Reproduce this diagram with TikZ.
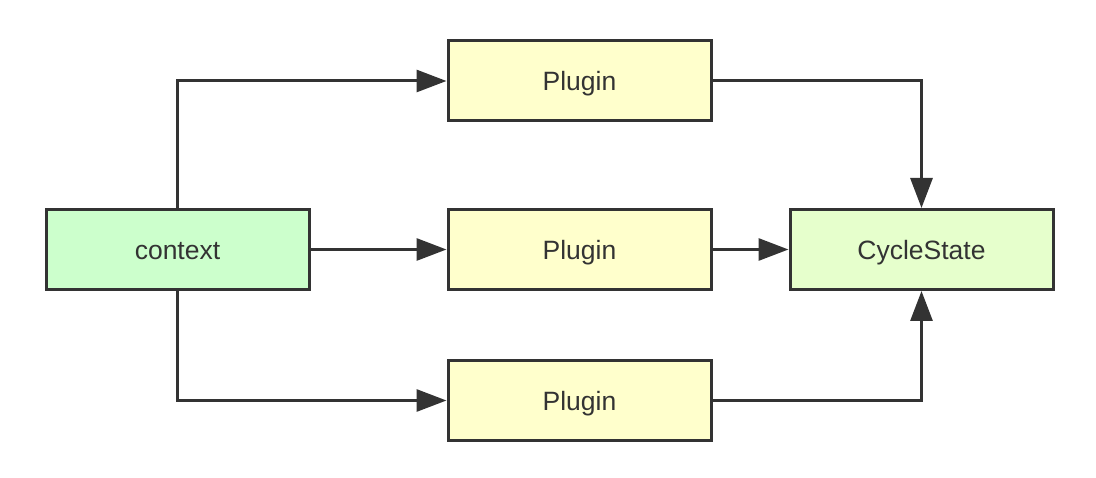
\documentclass[tikz,border=0pt]{standalone}
\usepackage{fontspec}
\setmainfont{Liberation Sans}
\usetikzlibrary{arrows.meta}
\definecolor{edge}{HTML}{333333}
\definecolor{ctxfill}{HTML}{CCFFCC}
\definecolor{plugfill}{HTML}{FFFFCC}
\definecolor{cyfill}{HTML}{E6FFCC}
\tikzset{
  box/.style={draw=edge, line width=3pt, minimum width=263pt, minimum height=80pt, inner sep=0pt, text=edge, font=\fontsize{26.5}{30}\selectfont, text height=24pt, text depth=4pt},
  conn/.style={draw=edge, line width=3pt, -{Triangle[length=30pt, width=22pt]}}
}
\begin{document}
\begin{tikzpicture}[x=1pt,y=-1pt]
\useasboundingbox (0,0) rectangle (1096,478);
\node[box, fill=ctxfill] (ctx) at (177.5,249.5) {context};
\node[box, fill=plugfill] (p1) at (579.5,81) {Plugin};
\node[box, fill=plugfill] (p2) at (579.5,249.5) {Plugin};
\node[box, fill=plugfill] (p3) at (579.5,400.5) {Plugin};
\node[box, fill=cyfill] (cs) at (921.5,249.5) {CycleState};
\draw[conn] (ctx.north) |- (p1.west);
\draw[conn] (ctx.east) -- (p2.west);
\draw[conn] (ctx.south) |- (p3.west);
\draw[conn] (p1.east) -| (cs.north);
\draw[conn] (p2.east) -- (cs.west);
\draw[conn] (p3.east) -| (cs.south);
\end{tikzpicture}
\end{document}
